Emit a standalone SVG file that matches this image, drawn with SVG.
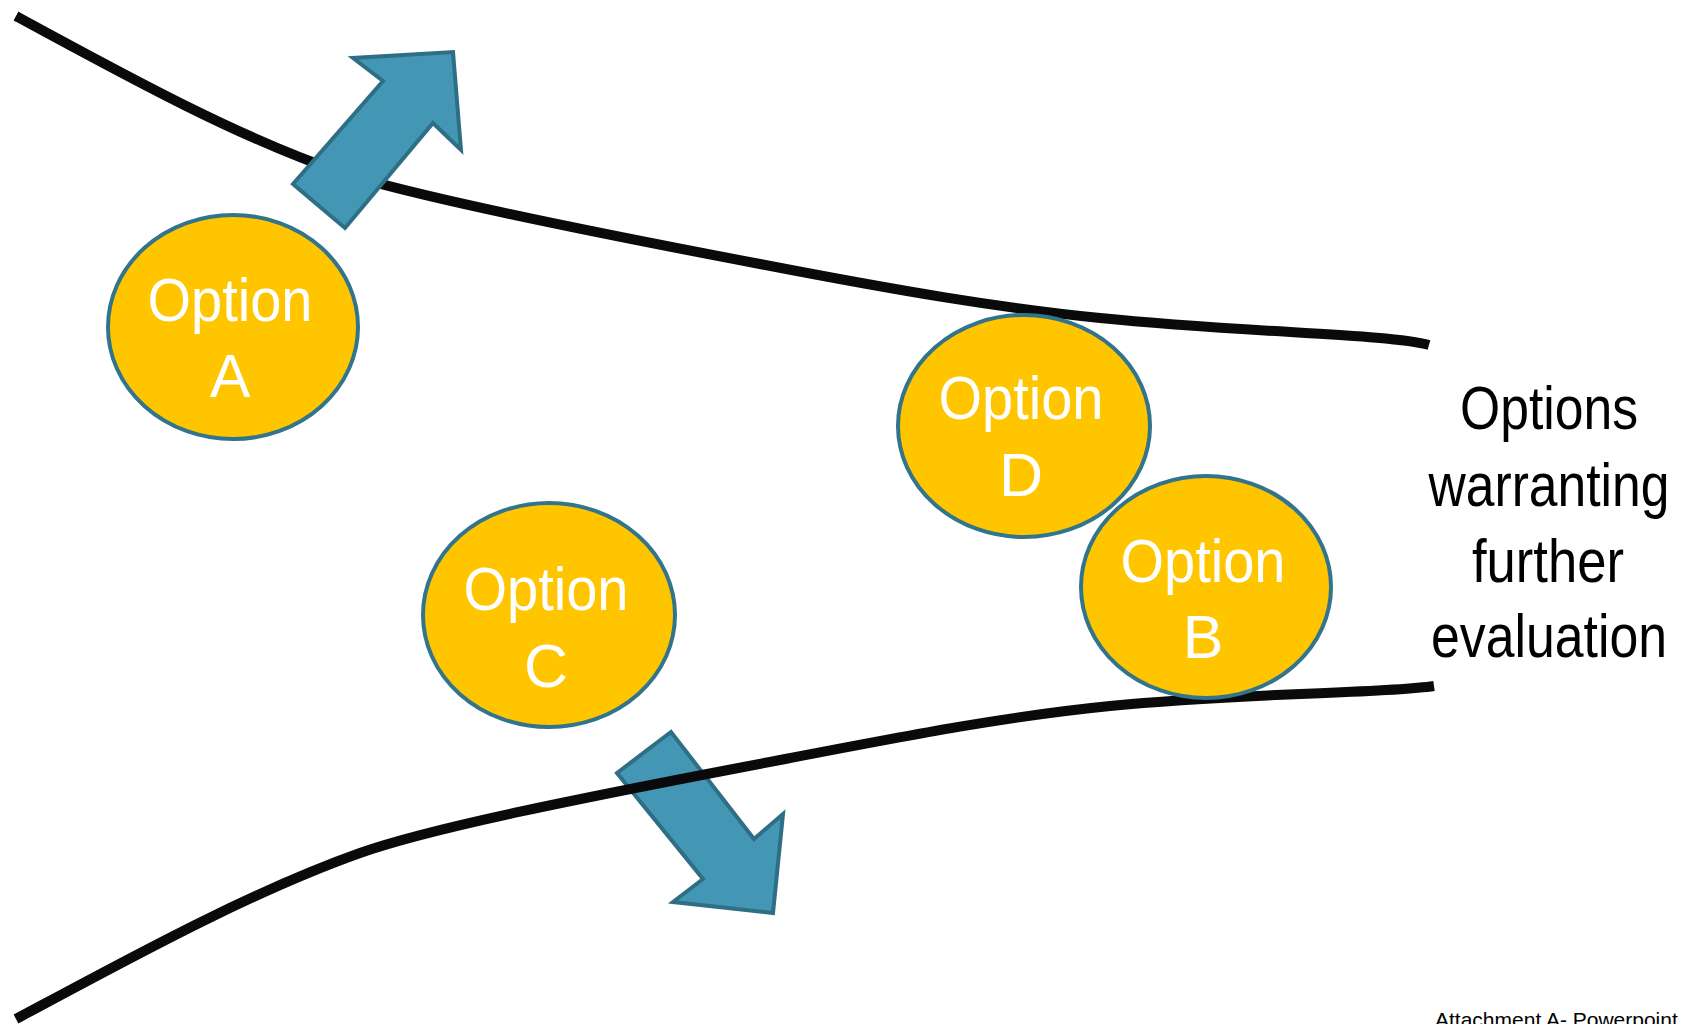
<svg xmlns="http://www.w3.org/2000/svg" width="1681" height="1024" viewBox="0 0 1681 1024">
<style>
.bound{fill:none;stroke:#0a0a0a;stroke-width:10;stroke-linecap:butt}
.arrow{fill:#4397b5;stroke:#2f6f86;stroke-width:4;stroke-linejoin:miter}
.opt ellipse{fill:#ffc600;stroke:#31748c;stroke-width:4}
.opt text{fill:#ffffff;font-family:"Liberation Sans Narrow","Liberation Sans",Arial,sans-serif;font-size:61px;text-anchor:middle}
.lbl{fill:#000000;font-family:"Liberation Sans Narrow","Liberation Sans",Arial,sans-serif;font-size:61px;text-anchor:middle}
.foot{fill:#000000;font-family:"Liberation Sans",Arial,sans-serif;font-size:21px}
</style>
<rect width="1681" height="1024" fill="#ffffff"/>
<g id="connectors">
<path id="upper-boundary" class="bound" d="M16,16 C130,78 240,138 340,172 C400,192 560,226 760,264 C900,291 1000,308 1100,318 C1250,333 1390,334 1429,345"/>
<polygon id="arrow-out-up" class="arrow" points="293,184 383,81 353,58 453,52 461,150 433,123 345,228"/>
<polygon id="arrow-out-down" class="arrow" points="617,773 671,732 754,839 783,814 773,913 673,902 703,879"/>
<path id="lower-boundary" class="bound" d="M16,1019 C130,958 250,892 360,853 C430,828 580,798 780,760 C920,733 1010,716 1110,706 C1250,692 1380,694 1434,686"/>
</g>
<g id="option-a" class="opt">
<ellipse cx="233" cy="327" rx="125" ry="112"/>
<text x="230" y="321" textLength="165" lengthAdjust="spacingAndGlyphs">Option</text>
<text x="230" y="397">A</text>
</g>
<g id="option-d" class="opt">
<ellipse cx="1024" cy="426" rx="126" ry="111"/>
<text x="1021" y="419" textLength="165" lengthAdjust="spacingAndGlyphs">Option</text>
<text x="1021" y="496">D</text>
</g>
<g id="option-b" class="opt">
<ellipse cx="1206" cy="587" rx="125" ry="111"/>
<text x="1203" y="582" textLength="165" lengthAdjust="spacingAndGlyphs">Option</text>
<text x="1203" y="658">B</text>
</g>
<g id="option-c" class="opt">
<ellipse cx="549" cy="615" rx="126" ry="112"/>
<text x="546" y="610" textLength="165" lengthAdjust="spacingAndGlyphs">Option</text>
<text x="546" y="687">C</text>
</g>
<g id="label">
<text class="lbl" x="1549" y="429" textLength="178" lengthAdjust="spacingAndGlyphs">Options</text>
<text class="lbl" x="1549" y="506" textLength="241" lengthAdjust="spacingAndGlyphs">warranting</text>
<text class="lbl" x="1548" y="582" textLength="152" lengthAdjust="spacingAndGlyphs">further</text>
<text class="lbl" x="1549" y="657" textLength="236" lengthAdjust="spacingAndGlyphs">evaluation</text>
</g>
<text id="footer" class="foot" x="1435" y="1027">Attachment A- Powerpoint</text>
</svg>
